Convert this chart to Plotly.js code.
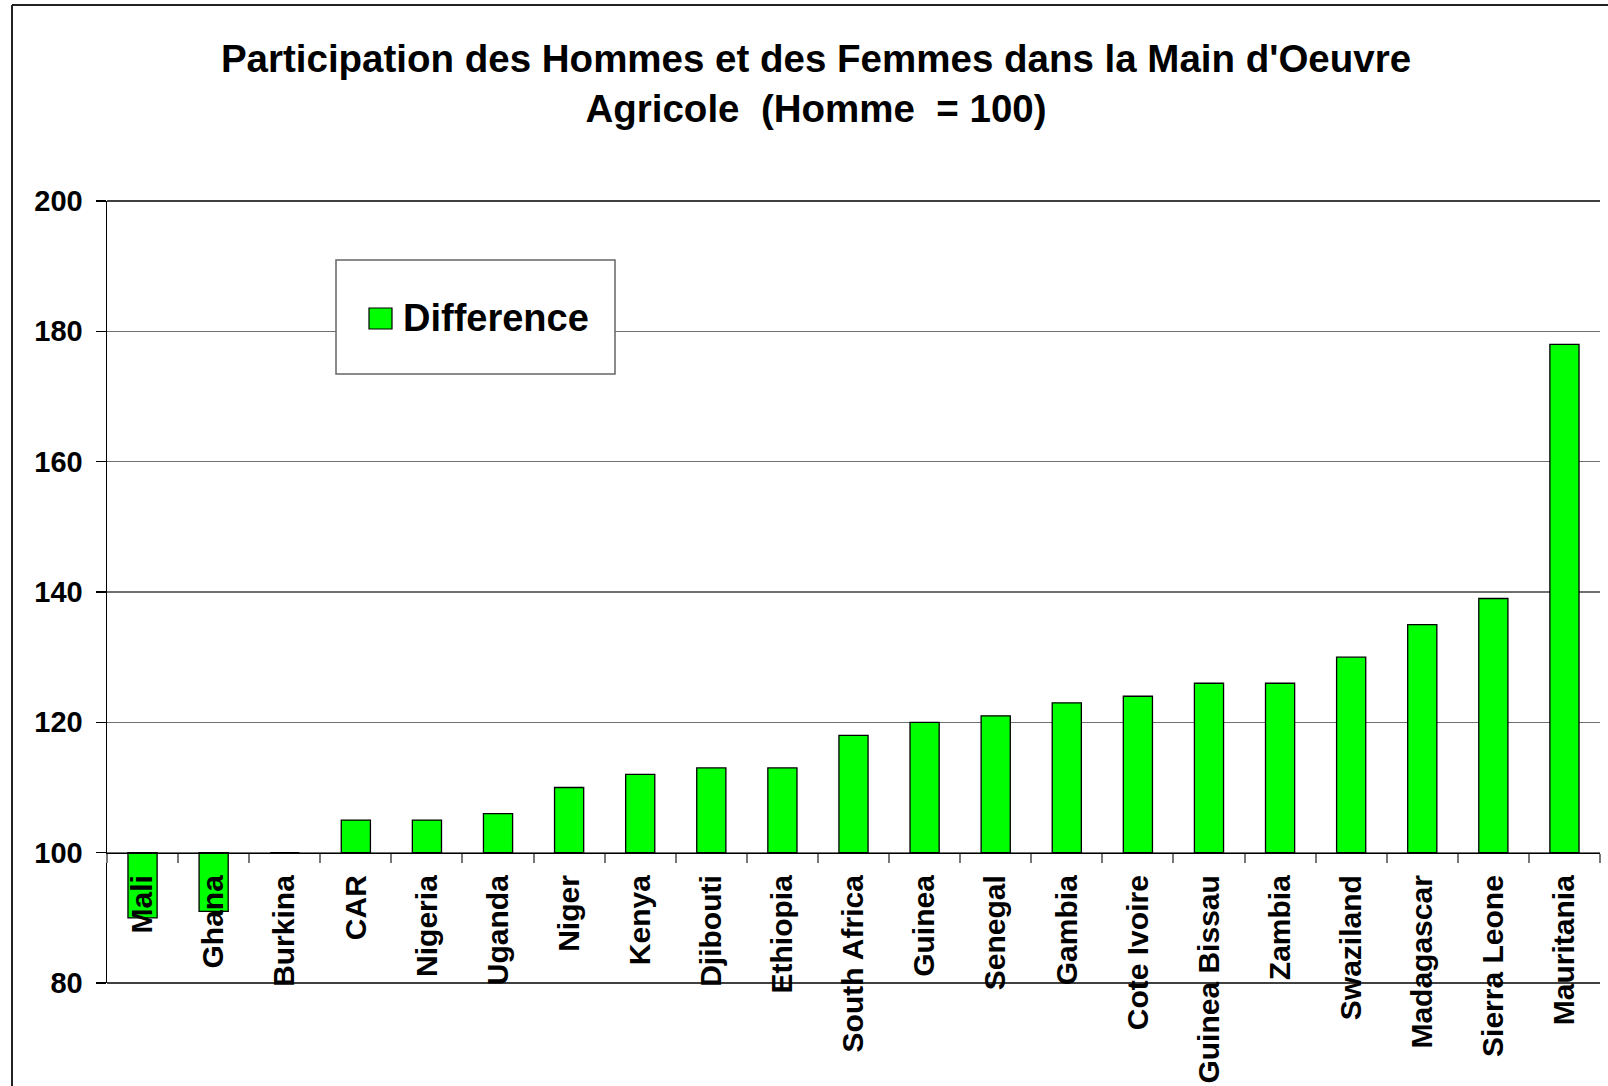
<!DOCTYPE html>
<html><head><meta charset="utf-8">
<script src="https://cdn.plot.ly/plotly-3.0.1.min.js"></script>
<style>html,body{margin:0;padding:0;background:#fff}</style>
</head><body><div id="chart" style="width:1608px;height:1086px"></div>
<script>
const countries = ['Mali','Ghana','Burkina','CAR','Nigeria','Uganda','Niger','Kenya','Djibouti','Ethiopia','South Africa','Guinea','Senegal','Gambia','Cote Ivoire','Guinea Bissau','Zambia','Swaziland','Madagascar','Sierra Leone','Mauritania'];
const values = [90,91,100,105,105,106,110,112,113,113,118,120,121,123,124,126,126,130,135,139,178];
const seriesName = 'Difference';
const baseline = 100;
const yTicks = [80,100,120,140,160,180,200];
const titleText = "Participation des Hommes et des Femmes dans la Main d'Oeuvre<br>Agricole&nbsp; (Homme&nbsp; = 100)";

const W = 1608, H = 1086, L = 107, R = 8, T = 201, B = 103;
const pw = W - L - R, ph = H - T - B;
const px = x => (x - L) / pw;
const py = y => (H - B - y) / ph;
const FONT = 'Liberation Sans, Arial, sans-serif';
const yMin = 80, yMax = 200;

const trace = {
  type: 'bar',
  name: seriesName,
  x: countries,
  y: values.map(v => v - baseline),
  base: baseline,
  marker: {color: '#00ff00', line: {color: '#000000', width: 1.3}},
  showlegend: false,
  hovertemplate: '%{x}: %{customdata}<extra></extra>',
  customdata: values
};

const layout = {
  width: W, height: H,
  margin: {l: L, r: R, t: T, b: B, pad: 0},
  paper_bgcolor: '#ffffff', plot_bgcolor: '#ffffff',
  font: {family: FONT, color: '#000000'},
  title: {
    text: titleText,
    font: {family: FONT, size: 38.5, color: '#000000', weight: 'bold'},
    x: 816 / W, xanchor: 'center', xref: 'container',
    y: 1 - 72 / H, yanchor: 'middle', yref: 'container'
  },
  bargap: 0.59,
  xaxis: {
    type: 'category',
    anchor: 'free',
    position: (baseline - yMin) / (yMax - yMin),
    showline: true, linecolor: '#000000', linewidth: 1.5,
    ticks: 'outside', tickson: 'boundaries', ticklen: 9, tickwidth: 2, tickcolor: '#777777',
    tickangle: -90,
    tickfont: {family: FONT, size: 30, color: '#000000', weight: 'bold'},
    ticklabelstandoff: 9,
    showgrid: false, zeroline: false,
    range: [-0.5, countries.length - 0.5]
  },
  yaxis: {
    range: [yMin, yMax],
    tickvals: yTicks,
    ticktext: yTicks.map(String),
    showline: true, linecolor: '#000000', linewidth: 1.5,
    ticks: 'outside', ticklen: 10, tickwidth: 1.5, tickcolor: '#000000',
    tickfont: {family: FONT, size: 29, color: '#000000', weight: 'bold'},
    ticklabelstandoff: 7,
    showgrid: true, gridcolor: '#707070', gridwidth: 1.5,
    zeroline: false
  },
  shapes: [
    {type: 'line', xref: 'paper', yref: 'paper', x0: 0, x1: 1, y0: 1, y1: 1, line: {color: '#000000', width: 1.5}},
    {type: 'line', xref: 'paper', yref: 'paper', x0: 0, x1: 1, y0: 0, y1: 0, line: {color: '#000000', width: 1.5}},
    {type: 'line', xref: 'paper', yref: 'paper', x0: px(12), x1: px(12), y0: py(5), y1: py(1090), line: {color: '#222222', width: 2}},
    {type: 'line', xref: 'paper', yref: 'paper', x0: px(12), x1: px(1612), y0: py(5), y1: py(5), line: {color: '#222222', width: 2}},
    {type: 'rect', xref: 'paper', yref: 'paper', x0: px(336), x1: px(615), y0: py(260), y1: py(374), fillcolor: '#ffffff', line: {color: '#666666', width: 1.5}, layer: 'above'},
    {type: 'rect', xref: 'paper', yref: 'paper', x0: px(369), x1: px(392), y0: py(308), y1: py(329), fillcolor: '#00ff00', line: {color: '#000000', width: 1.2}, layer: 'above'}
  ],
  annotations: [
    {xref: 'paper', yref: 'paper', x: px(401), y: py(318), xanchor: 'left', yanchor: 'middle', showarrow: false,
     text: seriesName, font: {family: FONT, size: 38, color: '#000000', weight: 'bold'}}
  ]
};

Plotly.newPlot('chart', [trace], layout, {displayModeBar: false, staticPlot: true});
</script>
</body></html>
